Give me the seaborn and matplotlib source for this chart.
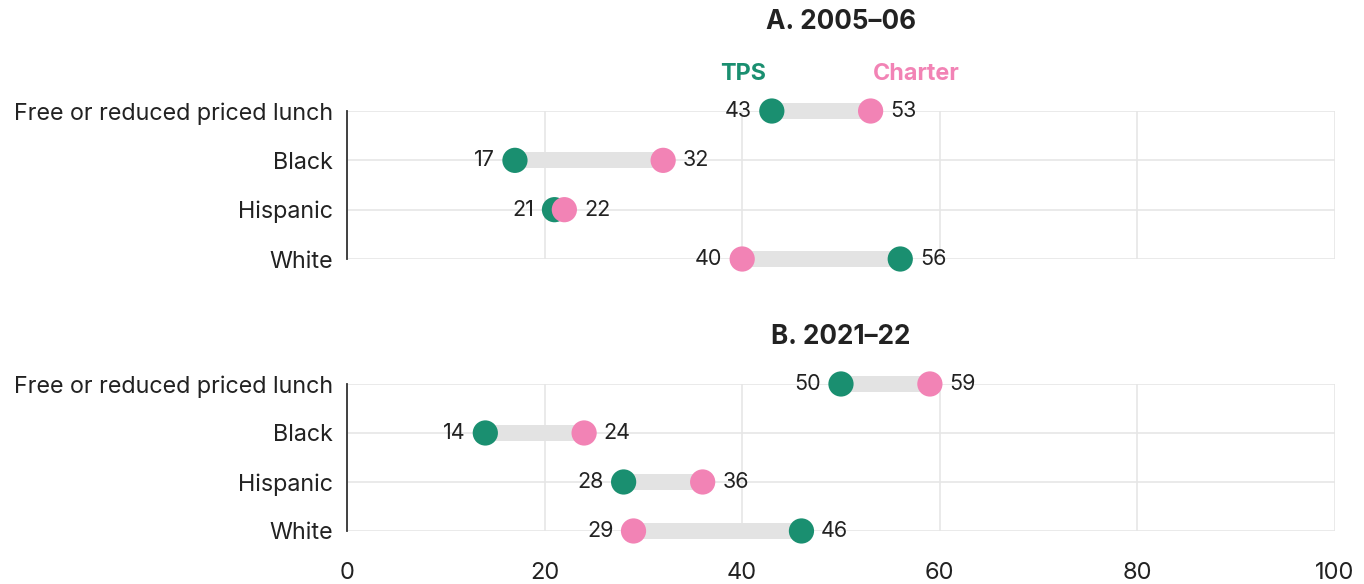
import numpy as np
import matplotlib
matplotlib.use("Agg")
import matplotlib.pyplot as plt
import seaborn as sns
import pandas as pd

# Data
groups = ["Free or reduced priced lunch", "Black", "Hispanic", "White"]
tps_0506 = [43, 17, 21, 56]
charter_0506 = [53, 32, 22, 40]
tps_2122 = [50, 14, 28, 46]
charter_2122 = [59, 24, 36, 29]
panel_titles = ["A. 2005\u201306", "B. 2021\u201322"]
x_ticks = [0, 20, 40, 60, 80, 100]

GREEN = "#1a8f70"
PINK = "#f283b5"
BAR = "#e3e3e3"
GRID = "#e6e6e6"
TEXT = "#222222"

sns.set_style("white")
plt.rcParams["font.family"] = ["Inter", "DejaVu Sans"]


def make_frame(tps, charter):
    rows = []
    for i, g in enumerate(groups):
        rows.append({"group": g, "pos": i, "type": "TPS", "value": tps[i]})
        rows.append({"group": g, "pos": i, "type": "Charter", "value": charter[i]})
    return pd.DataFrame(rows)


def draw_panel(ax, tps, charter, show_x, show_legend):
    df = make_frame(tps, charter)
    wide = df.pivot(index="pos", columns="type", values="value")
    lo = wide.min(axis=1)
    hi = wide.max(axis=1)

    # grey connector between the two school types
    ax.hlines(wide.index, lo, hi, color=BAR, linewidth=11.5, zorder=2,
              capstyle="butt", clip_on=False)
    sns.scatterplot(data=df, x="value", y="pos", hue="type",
                    hue_order=["TPS", "Charter"], palette=[GREEN, PINK],
                    s=330, linewidth=0, legend=False, ax=ax, zorder=3,
                    clip_on=False)

    for pos in wide.index:
        ax.text(lo[pos] - 2.0, pos, f"{lo[pos]:.0f}", ha="right", va="center",
                fontsize=15.5, color=TEXT)
        ax.text(hi[pos] + 2.0, pos, f"{hi[pos]:.0f}", ha="left", va="center",
                fontsize=15.5, color=TEXT)

    ax.set_xlim(0, 100)
    ax.set_ylim(3, 0)
    ax.set_yticks(range(len(groups)))
    ax.set_yticklabels(groups, fontsize=16.8, color=TEXT)
    ax.set_xticks(x_ticks)
    ax.set_xticklabels([str(t) for t in x_ticks] if show_x else [],
                       fontsize=17, color=TEXT)
    ax.tick_params(axis="y", length=0, pad=10)
    ax.tick_params(axis="x", length=0, pad=22)
    ax.set_xlabel("")
    ax.set_ylabel("")
    ax.grid(True, color=GRID, linewidth=1.2, zorder=0)
    ax.set_axisbelow(True)
    for side in ["top", "right", "bottom"]:
        ax.spines[side].set_visible(False)
    ax.spines["left"].set_color("#333333")
    ax.spines["left"].set_linewidth(1.3)

    if show_legend:
        ax.text(40.1, -0.76, "TPS", ha="center", va="center", fontsize=16.8,
                fontweight="bold", color=GREEN)
        ax.text(57.6, -0.76, "Charter", ha="center", va="center", fontsize=16.8,
                fontweight="bold", color=PINK)


W, H = 1364, 584
fig = plt.figure(figsize=(W / 100, H / 100), dpi=100)
ax_top = fig.add_axes([0.2544, 0.5565, 0.7243, 0.2534])
ax_bot = fig.add_axes([0.2544, 0.0908, 0.7243, 0.2517])

draw_panel(ax_top, tps_0506, charter_0506, False, True)
draw_panel(ax_bot, tps_2122, charter_2122, True, False)

fig.text(841 / W, 1 - 22 / H, panel_titles[0], ha="center", va="center",
         fontsize=18.8, fontweight="bold", color=TEXT)
fig.text(841 / W, 1 - 337 / H, panel_titles[1], ha="center", va="center",
         fontsize=18.8, fontweight="bold", color=TEXT)

fig.savefig("out.png", dpi=100)
